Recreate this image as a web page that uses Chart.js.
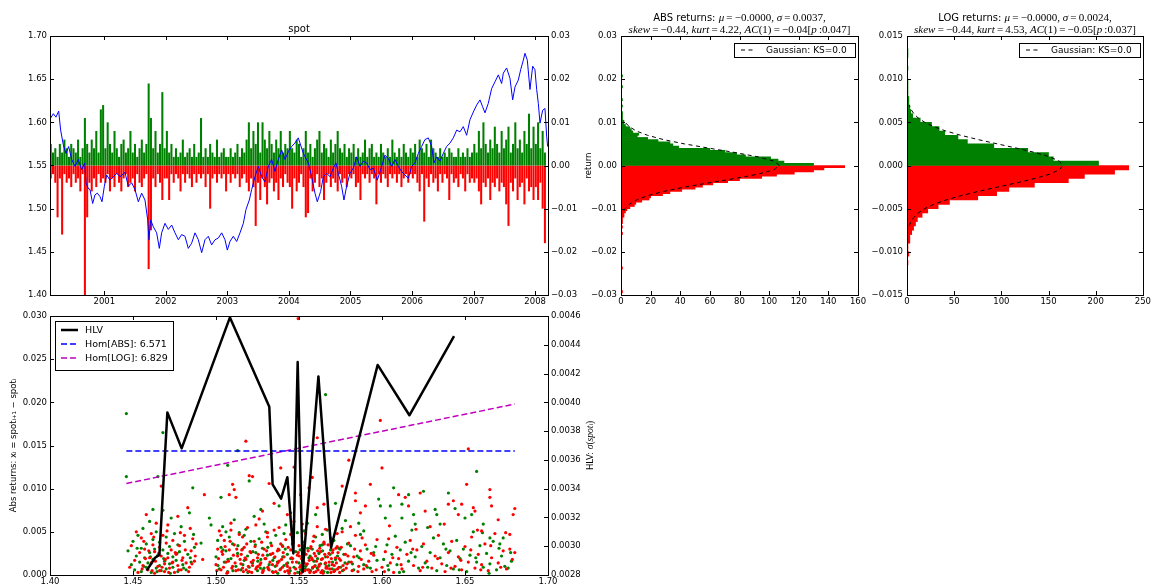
<!DOCTYPE html>
<html>
<head>
<meta charset="utf-8">
<script src="https://cdn.jsdelivr.net/npm/chart.js@4.4.0/dist/chart.umd.min.js"></script>
<style>
  html, body { margin: 0; padding: 0; background: #fff; }
  #wrap { position: relative; width: 1153px; height: 588px; overflow: hidden; }
  canvas { position: absolute; }
</style>
</head>
<body>
<div id="wrap">
  <canvas id="spotChart" width="600" height="310" style="left:0px;top:0px"></canvas>
  <canvas id="absHist" width="310" height="310" style="left:560px;top:0px"></canvas>
  <canvas id="logHist" width="293" height="310" style="left:860px;top:0px"></canvas>
  <canvas id="hlvChart" width="600" height="283" style="left:0px;top:305px"></canvas>
</div>
<script>
// ---------- data ----------

// spot level over time (decimal year)
const spotYears = [
  2000.129, 2000.172, 2000.215, 2000.259, 2000.291, 2000.334, 2000.378, 2000.421, 2000.470, 2000.524,
  2000.578, 2000.632, 2000.681, 2000.703, 2000.735, 2000.768, 2000.811, 2000.849, 2000.887, 2000.930,
  2000.963, 2001.001, 2001.038, 2001.093, 2001.147, 2001.201, 2001.255, 2001.336, 2001.390, 2001.445,
  2001.499, 2001.553, 2001.607, 2001.661, 2001.705, 2001.726, 2001.753, 2001.797, 2001.851, 2001.894,
  2001.932, 2001.986, 2002.040, 2002.095, 2002.149, 2002.203, 2002.257, 2002.311, 2002.365, 2002.419,
  2002.474, 2002.528, 2002.582, 2002.636, 2002.690, 2002.744, 2002.799, 2002.853, 2002.907, 2002.961,
  2002.999, 2003.042, 2003.096, 2003.151, 2003.205, 2003.259, 2003.302, 2003.356, 2003.394, 2003.448,
  2003.503, 2003.557, 2003.611, 2003.665, 2003.719, 2003.773, 2003.827, 2003.882, 2003.936, 2003.990,
  2004.044, 2004.098, 2004.152, 2004.234, 2004.315, 2004.369, 2004.423, 2004.461, 2004.515, 2004.559,
  2004.613, 2004.667, 2004.721, 2004.764, 2004.802, 2004.856, 2004.894, 2004.938, 2004.992, 2005.046,
  2005.100, 2005.154, 2005.208, 2005.263, 2005.317, 2005.371, 2005.436, 2005.490, 2005.560, 2005.615,
  2005.669, 2005.723, 2005.777, 2005.831, 2005.885, 2005.940, 2005.994, 2006.048, 2006.102, 2006.156,
  2006.210, 2006.265, 2006.319, 2006.356, 2006.400, 2006.454, 2006.508, 2006.562, 2006.617, 2006.671,
  2006.725, 2006.779, 2006.833, 2006.887, 2006.941, 2006.996, 2007.050, 2007.104, 2007.147, 2007.185,
  2007.239, 2007.293, 2007.348, 2007.402, 2007.456, 2007.483, 2007.537, 2007.591, 2007.635, 2007.673,
  2007.727, 2007.765, 2007.808, 2007.835, 2007.873, 2007.916, 2007.960, 2007.997, 2008.025, 2008.052,
  2008.079, 2008.122, 2008.160, 2008.187, 2008.203
];
const spotVals = [
  1.605, 1.610, 1.606, 1.613, 1.591, 1.574, 1.564, 1.572, 1.557, 1.549,
  1.557, 1.545, 1.553, 1.530, 1.524, 1.522, 1.506, 1.516, 1.518, 1.514,
  1.508, 1.526, 1.539, 1.533, 1.537, 1.541, 1.537, 1.542, 1.526, 1.530,
  1.522, 1.508, 1.518, 1.510, 1.487, 1.464, 1.487, 1.479, 1.472, 1.454,
  1.472, 1.483, 1.476, 1.481, 1.472, 1.464, 1.470, 1.468, 1.454, 1.460,
  1.472, 1.464, 1.449, 1.464, 1.468, 1.458, 1.464, 1.466, 1.472, 1.464,
  1.452, 1.462, 1.468, 1.462, 1.472, 1.483, 1.499, 1.510, 1.522, 1.537,
  1.549, 1.537, 1.531, 1.549, 1.557, 1.543, 1.557, 1.568, 1.557, 1.566,
  1.572, 1.576, 1.582, 1.564, 1.553, 1.537, 1.518, 1.508, 1.520, 1.537,
  1.541, 1.537, 1.547, 1.553, 1.541, 1.526, 1.510, 1.526, 1.541, 1.547,
  1.560, 1.549, 1.555, 1.553, 1.545, 1.547, 1.533, 1.545, 1.562, 1.558,
  1.549, 1.557, 1.549, 1.543, 1.539, 1.535, 1.549, 1.553, 1.564, 1.572,
  1.580, 1.582, 1.572, 1.553, 1.560, 1.555, 1.564, 1.572, 1.576, 1.582,
  1.591, 1.589, 1.595, 1.585, 1.603, 1.612, 1.620, 1.626, 1.618, 1.611,
  1.622, 1.639, 1.647, 1.655, 1.645, 1.657, 1.663, 1.651, 1.626, 1.641,
  1.649, 1.661, 1.672, 1.680, 1.672, 1.638, 1.665, 1.661, 1.638, 1.622,
  1.599, 1.614, 1.616, 1.584, 1.572
];

// largest up / down move in each ~2 week slot, in units of 0.001
const retYear0 = 2000.13;
const retStep = 0.037;
const retUp = [
  5, 3, 4, 2, 5, 3, 6, 4, 2, 5, 4, 3, 6, 2, 4, 11, 5, 3, 6, 4, 8, 3, 13, 14,
  4, 10, 5, 3, 8, 4, 2, 5, 6, 3, 4, 8, 3, 5, 2, 4, 6, 3, 5, 19, 11, 4, 8, 3, 5, 17, 4,
  8, 3, 5, 2, 4, 2, 3, 6, 2, 3, 4, 2, 5, 2, 3, 11, 2, 4, 2, 5, 3, 2, 6, 2, 3, 4, 2,
  2, 4, 2, 3, 5, 2, 4, 3, 6, 10, 4, 8, 5, 10, 3, 10, 6, 4, 8, 5, 3, 6, 4, 8, 3, 5, 4,
  8, 4, 3, 6, 5, 2, 4, 8, 3, 5, 2, 4, 6, 8, 3, 5, 4, 2, 6, 3, 5, 8, 4, 3, 5, 2, 4,
  3, 5, 2, 4, 2, 3, 6, 2, 4, 5, 2, 3, 2, 5, 3, 2, 4, 2, 6, 3, 2, 4, 2, 5, 3, 2, 4,
  3, 5, 2, 6, 4, 3, 5, 2, 6, 4, 3, 2, 4, 2, 3, 2, 4, 3, 2, 2, 4, 2, 3, 2, 4, 2, 3,
  5, 3, 8, 4, 10, 5, 3, 6, 4, 9, 5, 3, 8, 4, 6, 9, 3, 5, 10, 4, 6, 3, 8, 5, 12, 4, 9,
  5, 10, 4, 8, 3
];
const retDown = [
  -3, -2, -4, -12, -3, -16, -2, -4, -3, -5, -2, -4, -3, -6, -2, -30, -12, -4, -6, -3, -5, -2, -4, -3,
  -4, -2, -6, -3, -5, -2, -4, -6, -3, -2, -5, -4, -3, -6, -2, -4, -5, -3, -2, -24, -15, -3, -5, -2, -4, -8, -3,
  -3, -8, -2, -4, -2, -3, -6, -2, -4, -2, -3, -5, -2, -4, -2, -3, -2, -5, -2, -10, -3, -2, -4, -2, -3, -2, -6,
  -2, -4, -2, -3, -2, -5, -3, -2, -4, -6, -3, -5, -14, -4, -8, -3, -5, -9, -4, -3, -6, -4, -8, -3, -5, -2, -4,
  -5, -10, -3, -6, -4, -2, -5, -12, -11, -3, -6, -4, -2, -5, -3, -8, -4, -2, -5, -3, -4, -6, -2, -4, -3, -5, -2,
  -3, -2, -5, -4, -8, -2, -3, -2, -4, -2, -3, -9, -2, -4, -2, -3, -5, -2, -3, -2, -4, -2, -5, -3, -2, -4, -2,
  -3, -2, -4, -6, -2, -13, -3, -5, -2, -4, -3, -6, -2, -4, -2, -3, -8, -2, -4, -3, -5, -2, -3, -6, -2, -4, -3,
  -4, -3, -6, -9, -4, -5, -3, -8, -4, -5, -3, -6, -4, -5, -9, -14, -4, -6, -3, -8, -5, -4, -9, -3, -6, -5, -8,
  -5, -8, -4, -10, -18
];

// histogram counts, bins of 0.0005 going outward from zero
const histBin = 0.0005;
const absUpCounts = [130, 110, 106, 101, 84, 78, 70, 60, 39, 35, 33, 25, 18, 11, 12, 8, 7, 6, 3, 2, 2, 1, 1, 1, 1,
  0, 0, 1, 0, 0, 1, 0, 0, 0, 0, 0, 1, 0, 0, 0, 0, 1];
const absDownCounts = [151, 137, 130, 117, 105, 95, 80, 72, 62, 55, 50, 41, 33, 28, 20, 19, 14, 10, 9, 6, 4, 3, 2, 2, 1,
  1, 1, 0, 1, 0, 0, 1, 0, 0, 0, 0, 0, 0, 0, 0, 0, 0, 0, 0, 0, 0, 0, 1, 0, 0, 0, 0, 0, 0, 0, 0, 0, 0, 1];
const logUpCounts = [203, 155, 150, 128, 92, 64, 54, 40, 34, 26, 14, 6, 4, 3, 2, 2, 1, 1, 1, 1, 0, 0, 1, 0, 0, 1, 1];
const logDownCounts = [235, 220, 188, 171, 135, 108, 95, 75, 45, 33, 22, 16, 11, 9, 7, 5, 3, 3, 1, 1, 2, 0, 1];

// dashed Gaussian reference curves (return, count)
const gaussAbsRet = [-0.0105, -0.010, -0.009, -0.008, -0.007, -0.006, -0.005, -0.004, -0.003, -0.002, -0.001, 0,
  0.001, 0.002, 0.003, 0.004, 0.005, 0.006, 0.007, 0.008, 0.009, 0.010, 0.0105];
const gaussAbsCount = [1.9, 2.8, 5.6, 10.3, 17.9, 28.7, 42.9, 59.7, 77.1, 92.5, 103.2, 107,
  103.2, 92.5, 77.1, 59.7, 42.9, 28.7, 17.9, 10.3, 5.6, 2.8, 1.9];
const gaussLogRet = [-0.007, -0.0065, -0.006, -0.0055, -0.005, -0.0045, -0.004, -0.0035, -0.003, -0.0025, -0.002,
  -0.0015, -0.001, -0.0005, 0, 0.0005, 0.001, 0.0015, 0.002, 0.0025, 0.003, 0.0035, 0.004, 0.0045, 0.005,
  0.0055, 0.006, 0.0065, 0.007];
const gaussLogCount = [2.3, 4.2, 7.3, 11.9, 18.8, 28.4, 41.1, 57, 75.5, 95.9, 116.6, 135.8, 151.3, 161.5, 165,
  161.5, 151.3, 135.8, 116.6, 95.9, 75.5, 57, 41.1, 28.4, 18.8, 11.9, 7.3, 4.2, 2.3];

// scatter: [spot, |return| in units of 0.001]
const scatterUp = [
  [1.447,2.8],[1.449,1.2],[1.450,3.9],[1.451,0.6],[1.452,2.2],[1.453,4.6],[1.454,1.5],[1.455,0.4],[1.455,3.1],[1.456,5.4],
  [1.457,2.0],[1.458,0.9],[1.458,3.6],[1.459,1.4],[1.460,6.2],[1.460,2.6],[1.461,0.3],[1.462,4.1],[1.462,1.8],[1.463,3.0],
  [1.464,0.8],[1.464,5.0],[1.465,2.3],[1.466,1.1],[1.466,3.8],[1.467,0.5],[1.468,2.9],[1.468,7.5],[1.469,1.6],[1.470,4.4],
  [1.470,0.7],[1.471,2.5],[1.472,1.3],[1.472,3.3],[1.473,6.6],[1.474,0.9],[1.474,2.1],[1.475,4.8],[1.476,1.7],[1.477,0.4],
  [1.477,3.5],[1.478,2.7],[1.479,5.6],[1.480,1.2],[1.481,3.9],[1.482,0.6],[1.483,2.4],[1.484,7.2],[1.485,1.5],[1.487,3.2],
  [1.4565,1.0],[1.4605,2.1],[1.4645,0.4],[1.4685,1.9],[1.4725,0.2],[1.4765,2.5],[1.4805,0.8],[1.4845,2.0],[1.4525,3.1],[1.4865,4.7],
  [1.446,18.7],[1.446,11.4],[1.468,16.5],[1.465,11.4],[1.462,7.6],[1.486,10.1],
  [1.491,3.7],[1.496,6.6],[1.497,5.8],
  [1.500,2.1],[1.501,4.0],[1.502,0.7],[1.503,3.2],[1.504,5.6],[1.505,1.5],[1.506,2.8],[1.507,0.4],[1.508,4.4],[1.509,1.9],
  [1.510,3.6],[1.511,6.4],[1.512,1.0],[1.513,2.5],[1.514,4.9],[1.515,0.6],[1.516,3.0],[1.517,1.7],[1.518,5.3],[1.519,2.2],
  [1.520,0.9],[1.521,3.9],[1.522,1.4],[1.523,6.8],[1.524,2.6],[1.525,0.5],[1.526,4.2],[1.527,1.8],[1.528,3.1],[1.529,0.8],
  [1.530,5.0],[1.531,2.3],[1.532,1.2],[1.533,3.7],[1.534,0.4],[1.535,2.0],[1.536,4.6],[1.537,1.5],[1.538,2.9],[1.539,0.7],
  [1.540,3.4],[1.541,1.1],[1.542,5.8],[1.543,2.4],[1.544,0.3],[1.545,1.9],[1.546,3.6],[1.547,0.9],[1.548,2.7],[1.549,4.9],
  [1.550,1.4],[1.551,0.6],[1.552,2.3],[1.553,3.8],[1.554,1.0],[1.555,6.0],[1.556,2.0],[1.557,0.5],[1.558,3.0],[1.559,1.6],
  [1.560,4.4],[1.561,0.8],[1.562,2.5],[1.563,1.3],[1.564,3.5],[1.565,0.4],[1.566,2.1],[1.567,5.2],[1.568,1.1],[1.569,2.9],
  [1.570,0.7],[1.571,4.0],[1.572,1.8],[1.574,3.1],[1.575,0.9],[1.577,2.4],[1.578,6.3],[1.580,1.5],[1.581,3.4],[1.583,0.6],
  [1.585,2.2],[1.587,4.7],[1.589,1.2],[1.591,3.0],[1.593,0.8],[1.595,2.6],[1.597,1.7],
  [1.5012,1.1],[1.5042,2.9],[1.5072,1.8],[1.5102,0.5],[1.5132,3.4],[1.5162,1.2],[1.5192,0.3],[1.5222,2.7],[1.5252,1.6],[1.5282,0.6],
  [1.5312,3.2],[1.5342,1.7],[1.5372,0.2],[1.5402,2.1],[1.5432,1.4],[1.5462,2.9],[1.5492,0.3],[1.5522,1.7],[1.5552,3.1],[1.5582,0.8],
  [1.5612,1.9],[1.5642,2.8],[1.5672,0.3],[1.5702,1.5],[1.5732,2.2],[1.5762,0.5],[1.5792,3.6],[1.5822,1.3],[1.5862,2.0],[1.5912,0.9],
  [1.5962,3.3],[1.506,5.0],[1.517,4.6],[1.529,5.9],[1.541,4.8],[1.553,5.1],[1.564,4.7],[1.576,5.4],[1.586,6.0],
  [1.5507,2.9],[1.5537,0.7],[1.5567,2.2],[1.5597,1.1],[1.5627,3.4],[1.5657,1.3],[1.5687,2.4],[1.5717,0.6],[1.5747,3.0],[1.5777,1.4],
  [1.5237,3.5],[1.5267,0.8],[1.5327,2.4],[1.5357,1.0],[1.5417,3.0],[1.5447,0.5],
  [1.503,9.0],[1.507,12.7],[1.513,14.4],[1.520,10.9],[1.538,8.0],[1.566,20.9],[1.572,8.3],[1.589,5.1],[1.598,8.8],[1.599,8.0],
  [1.527,7.6],[1.545,7.2],[1.560,7.0],
  [1.601,1.8],[1.603,3.5],[1.604,0.6],[1.606,2.4],[1.608,4.5],[1.609,1.2],[1.611,2.9],[1.613,0.4],[1.614,3.8],[1.616,1.6],
  [1.618,5.2],[1.620,2.1],[1.622,0.8],[1.624,3.3],[1.626,1.4],[1.629,2.6],[1.631,4.3],[1.633,0.5],[1.635,2.0],[1.637,3.6],
  [1.639,1.1],[1.641,2.8],[1.643,0.7],[1.645,4.0],[1.647,1.9],[1.649,3.0],[1.651,0.4],[1.653,2.3],[1.655,5.0],[1.657,1.5],
  [1.659,3.4],[1.661,0.9],[1.663,2.5],[1.665,1.3],[1.667,3.9],[1.669,0.6],[1.672,2.2],[1.674,1.0],[1.676,0.8],[1.678,1.6],
  [1.6035,1.1],[1.6105,0.3],[1.6175,2.6],[1.6275,0.9],[1.6385,3.0],[1.6465,0.6],[1.6565,2.0],[1.6645,0.2],[1.6705,3.1],[1.6775,2.6],
  [1.6275,5.5],[1.6605,4.9],
  [1.602,6.6],[1.607,10.1],[1.605,8.0],[1.612,8.2],[1.616,9.3],[1.612,6.6],[1.619,7.0],[1.620,5.9],[1.625,9.7],[1.632,7.6],
  [1.633,7.0],[1.635,5.9],[1.640,9.5],[1.644,7.7],[1.650,6.6],[1.654,7.0],[1.657,12.0],[1.661,5.9],[1.665,4.3],[1.671,3.6],
  [1.673,4.3]
];
const scatterDown = [
  [1.448,0.9],[1.449,3.4],[1.451,1.7],[1.452,5.0],[1.453,0.3],[1.454,2.6],[1.455,4.3],[1.456,1.1],[1.457,3.0],[1.458,7.0],
  [1.459,0.6],[1.460,2.0],[1.461,4.8],[1.461,1.4],[1.462,3.5],[1.463,0.2],[1.463,2.7],[1.464,6.0],[1.465,1.0],[1.466,3.2],
  [1.466,0.5],[1.467,2.2],[1.468,4.6],[1.469,1.3],[1.469,0.4],[1.470,3.7],[1.471,2.0],[1.471,5.8],[1.472,0.8],[1.473,2.9],
  [1.474,1.5],[1.474,4.0],[1.475,0.3],[1.476,2.4],[1.477,6.8],[1.477,1.1],[1.478,3.4],[1.479,0.6],[1.480,2.0],[1.481,4.6],
  [1.482,1.4],[1.483,7.8],[1.484,0.9],[1.485,2.8],[1.486,4.2],[1.487,1.6],[1.488,3.6],
  [1.4555,0.7],[1.4575,1.9],[1.4595,2.8],[1.4615,0.5],[1.4635,1.6],[1.4655,2.5],[1.4675,0.9],[1.4695,1.8],[1.4715,0.3],[1.4735,1.4],
  [1.4755,2.6],[1.4775,0.6],[1.4795,1.7],[1.4815,2.9],[1.4835,0.4],[1.4855,1.3],[1.4875,2.2],[1.4565,3.9],[1.4625,4.4],[1.4705,5.1],
  [1.4785,4.9],[1.4845,5.4],
  [1.470,24.1],[1.467,10.3],[1.492,1.8],[1.493,9.3],
  [1.500,1.2],[1.501,3.0],[1.502,5.1],[1.503,0.6],[1.504,2.4],[1.505,4.0],[1.506,1.5],[1.507,0.3],[1.508,2.9],[1.509,6.0],
  [1.510,1.0],[1.511,3.5],[1.512,0.5],[1.513,2.2],[1.514,4.7],[1.515,1.3],[1.516,0.8],[1.517,3.2],[1.518,1.8],[1.519,5.5],
  [1.520,0.4],[1.521,2.6],[1.522,1.1],[1.523,3.9],[1.524,0.7],[1.525,2.0],[1.526,6.5],[1.527,1.4],[1.528,0.3],[1.529,3.0],
  [1.530,1.9],[1.531,4.4],[1.532,0.6],[1.533,2.4],[1.534,1.2],[1.535,5.2],[1.536,0.4],[1.537,2.8],[1.538,1.6],[1.539,3.6],
  [1.540,0.9],[1.541,2.1],[1.542,4.1],[1.543,1.0],[1.544,0.2],[1.545,2.9],[1.546,1.5],[1.547,6.2],[1.548,0.7],[1.549,2.3],
  [1.550,3.4],[1.551,1.1],[1.552,0.4],[1.553,2.6],[1.554,4.8],[1.555,1.3],[1.556,0.6],[1.557,3.1],[1.558,1.8],[1.559,0.3],
  [1.560,2.2],[1.561,5.6],[1.562,1.0],[1.563,2.7],[1.564,0.5],[1.565,3.8],[1.566,1.4],[1.567,0.8],[1.568,2.5],[1.569,4.3],
  [1.570,1.2],[1.571,0.4],[1.572,2.0],[1.573,3.3],[1.574,0.9],[1.575,1.7],[1.576,5.0],[1.577,0.6],[1.578,2.4],[1.579,1.3],
  [1.580,3.7],[1.582,0.5],[1.583,2.1],[1.584,4.6],[1.586,1.0],[1.587,2.8],[1.589,0.7],[1.590,3.5],[1.592,1.6],[1.594,0.4],
  [1.595,2.3],[1.597,4.1],
  [1.5005,0.5],[1.5015,1.9],[1.5035,2.7],[1.5045,0.9],[1.5055,3.3],[1.5065,0.2],[1.5075,1.6],[1.5085,3.9],[1.5095,0.8],[1.5105,2.3],
  [1.5115,1.4],[1.5125,3.0],[1.5135,0.6],[1.5145,1.8],[1.5155,2.9],[1.5165,0.4],[1.5175,2.0],[1.5185,3.6],[1.5195,1.0],[1.5205,2.7],
  [1.5215,0.3],[1.5225,1.7],[1.5235,3.3],[1.5245,0.9],[1.5255,2.4],[1.5265,1.2],[1.5275,3.8],[1.5285,0.5],[1.5295,1.9],[1.5305,2.8],
  [1.5315,0.7],[1.5325,1.5],[1.5335,3.4],[1.5345,0.3],[1.5355,2.1],[1.5365,1.1],[1.5375,3.0],[1.5385,0.6],[1.5395,1.8],[1.5405,2.6],
  [1.5415,0.4],[1.5425,1.3],[1.5435,3.2],[1.5445,0.8],[1.5455,2.0],[1.5465,3.7],[1.5475,0.2],[1.5485,1.5],[1.5495,2.6],[1.5505,0.9],
  [1.5515,1.9],[1.5525,3.4],[1.5535,0.5],[1.5545,1.2],[1.5555,2.8],[1.5565,0.3],[1.5575,2.0],[1.5585,3.9],[1.5595,1.0],[1.5605,1.6],
  [1.5615,0.6],[1.5625,3.1],[1.5635,1.8],[1.5645,0.2],[1.5655,2.4],[1.5665,1.0],[1.5675,3.5],[1.5685,0.7],[1.5695,1.9],[1.5705,2.9],
  [1.5715,0.5],[1.5725,1.4],[1.5735,2.6],[1.5745,0.3],[1.5755,3.2],[1.5765,1.1],[1.5785,0.8],[1.5795,2.2],[1.5815,1.5],[1.5835,3.0],
  [1.5855,0.4],[1.5875,1.8],[1.5905,1.1],[1.5935,2.5],[1.5965,0.6],
  [1.5502,2.2],[1.5512,0.2],[1.5522,3.0],[1.5532,1.4],[1.5542,2.4],[1.5552,0.6],[1.5562,1.7],[1.5572,3.3],[1.5582,0.9],[1.5592,2.5],
  [1.5602,0.4],[1.5612,2.8],[1.5622,1.2],[1.5632,0.3],[1.5642,1.9],[1.5652,3.6],[1.5662,0.8],[1.5672,2.1],[1.5682,1.5],[1.5692,0.3],
  [1.5702,2.6],[1.5712,1.1],[1.5722,3.1],[1.5732,0.7],[1.5742,1.9],[1.5252,1.0],[1.5282,2.3],[1.5312,0.9],[1.5342,2.5],[1.5372,1.4],
  [1.5402,3.3],[1.5432,0.5],[1.5462,1.9],[1.5152,2.4],[1.5182,0.6],[1.5212,1.5],
  [1.503,4.6],[1.509,5.2],[1.516,4.4],[1.524,5.8],[1.531,4.9],[1.538,5.5],[1.545,4.7],[1.552,5.9],[1.559,4.5],[1.566,5.3],
  [1.573,4.8],[1.581,5.6],[1.588,4.3],
  [1.518,15.5],[1.520,11.5],[1.522,11.4],[1.510,10.5],[1.511,9.9],[1.508,9.3],[1.512,9.0],[1.532,10.6],[1.539,12.4],[1.547,12.5],
  [1.5495,29.7],[1.561,15.9],[1.558,11.3],[1.556,10.1],[1.551,9.3],[1.561,7.8],[1.565,8.2],[1.576,10.3],[1.580,13.3],[1.584,9.5],
  [1.584,8.6],[1.593,10.5],[1.590,8.0],[1.587,7.2],[1.600,12.4],[1.599,17.9],[1.528,7.4],[1.543,7.0],[1.535,8.3],
  [1.600,0.9],[1.602,2.7],[1.604,4.2],[1.605,1.4],[1.607,0.3],[1.609,3.2],[1.610,1.9],[1.612,0.7],[1.615,2.4],[1.617,4.0],
  [1.619,1.1],[1.621,2.9],[1.623,0.5],[1.625,3.6],[1.627,1.6],[1.630,0.8],[1.632,2.2],[1.634,4.6],[1.636,1.3],[1.638,0.4],
  [1.640,2.6],[1.642,3.9],[1.644,1.0],[1.646,2.1],[1.648,0.6],[1.650,3.3],[1.652,1.5],[1.654,4.4],[1.656,0.8],[1.658,2.4],
  [1.660,1.2],[1.662,3.6],[1.664,0.5],[1.666,2.0],[1.668,4.8],[1.670,1.4],[1.673,2.8],[1.675,0.7],[1.677,3.0],[1.680,2.6],
  [1.6015,0.4],[1.6065,2.0],[1.6115,1.2],[1.6185,3.0],[1.6245,0.9],[1.6335,1.9],[1.6415,0.8],[1.6475,1.7],[1.6535,2.9],[1.6595,0.6],
  [1.6655,3.4],[1.6715,0.9],[1.6785,1.8],[1.6045,5.7],[1.6205,5.3],[1.6375,5.9],[1.6575,5.2],[1.6745,4.9],
  [1.610,9.3],[1.614,9.0],[1.616,8.0],[1.623,9.5],[1.626,7.4],[1.629,5.6],[1.640,8.2],[1.643,8.6],[1.646,7.0],[1.648,8.2],
  [1.651,10.5],[1.652,14.6],[1.655,7.8],[1.656,7.4],[1.660,5.1],[1.665,9.9],[1.665,9.0],[1.666,8.0],[1.670,6.4],[1.677,4.7],
  [1.679,7.0],[1.680,7.7]
];

// HLV curve (spot, sigma) and the two homoscedasticity lines
const hlvSpot = [1.4582, 1.4633, 1.4659, 1.4707, 1.4793, 1.5084, 1.5321, 1.5341, 1.5392, 1.5430,
  1.5466, 1.5492, 1.5522, 1.5617, 1.5693, 1.5974, 1.6165, 1.6434];
const hlvVal = [0.00283, 0.00292, 0.00294, 0.00393, 0.00368, 0.00459, 0.00397, 0.00343, 0.00333, 0.00348,
  0.00295, 0.00428, 0.00282, 0.00418, 0.00299, 0.00426, 0.00391, 0.00446];
const homSpot = [1.446, 1.680];
const homAbs = [14.36, 14.36];
const homLog = [10.6, 19.8];

// tick positions
const yearTicks = [2001, 2002, 2003, 2004, 2005, 2006, 2007, 2008];
const spotTicks = [1.40, 1.45, 1.50, 1.55, 1.60, 1.65, 1.70];
const retTicks = [-0.03, -0.02, -0.01, 0, 0.01, 0.02, 0.03];
const logRetTicks = [-0.015, -0.01, -0.005, 0, 0.005, 0.01, 0.015];
const absCountTicks = [0, 20, 40, 60, 80, 100, 120, 140, 160];
const logCountTicks = [0, 50, 100, 150, 200, 250];
const absRetTicks = [0, 0.005, 0.01, 0.015, 0.02, 0.025, 0.03];
const hlvTicks = [0.0028, 0.0030, 0.0032, 0.0034, 0.0036, 0.0038, 0.0040, 0.0042, 0.0044, 0.0046];

// ---------- styling helpers ----------
const SANS = "'DejaVu Sans', sans-serif";
const SERIF = "'Liberation Serif', 'DejaVu Serif', serif";
Chart.defaults.font.family = SANS;
Chart.defaults.font.size = 8.5;
Chart.defaults.color = '#000';

const GREEN = '#008000';
const RED = '#ff0000';

const fmt = d => v => (v < -1e-12 ? '\u2212' : '') + Math.abs(v).toFixed(d);

function makeAxis(o) {
  return {
    type: 'linear',
    position: o.position,
    min: o.min,
    max: o.max,
    offset: false,
    grid: { display: false, drawTicks: false },
    border: { display: false },
    afterBuildTicks: s => { s.ticks = o.ticks.map(v => ({ value: v })); },
    afterFit: s => {
      if (o.width != null) s.width = o.width;
      if (o.height != null) s.height = o.height;
    },
    ticks: {
      color: '#000', padding: o.pad != null ? o.pad : 3, autoSkip: false,
      maxRotation: 0, minRotation: 0, callback: v => o.fmt(v)
    },
    title: o.title
      ? { display: true, text: o.title, color: '#000', font: { size: 8.5 }, padding: { top: o.titlePad || 0, bottom: 0 } }
      : { display: false }
  };
}

// box around the plot + inward tick marks, like matplotlib
const framePlugin = {
  id: 'frame',
  afterDraw(chart, args, opts) {
    const { ctx, chartArea: a } = chart;
    const L = 4;
    ctx.save();
    ctx.strokeStyle = '#000';
    ctx.lineWidth = 1;
    ctx.beginPath();
    Object.values(chart.scales).forEach(s => {
      s.ticks.forEach(t => {
        const p = Math.round(s.getPixelForValue(t.value)) + 0.5;
        if (s.isHorizontal()) {
          ctx.moveTo(p, a.bottom); ctx.lineTo(p, a.bottom - L);
          ctx.moveTo(p, a.top); ctx.lineTo(p, a.top + L);
        } else {
          if (s.position === 'left' || opts.mirrorY) { ctx.moveTo(a.left, p); ctx.lineTo(a.left + L, p); }
          if (s.position === 'right' || opts.mirrorY) { ctx.moveTo(a.right, p); ctx.lineTo(a.right - L, p); }
        }
      });
    });
    ctx.stroke();
    ctx.strokeRect(Math.round(a.left) + 0.5, Math.round(a.top) + 0.5,
      Math.round(a.right - a.left), Math.round(a.bottom - a.top));
    ctx.restore();
  }
};

// titles mixing sans text with serif-italic math; optional rotation for side labels
function segFont(kind, size) {
  if (kind === 's') return size + 'px ' + SANS;
  if (kind === 'i') return 'italic ' + (size + 1) + 'px ' + SERIF;
  return (size + 1) + 'px ' + SERIF;
}
const richTitlePlugin = {
  id: 'richTitle',
  afterDraw(chart, args, opts) {
    if (!opts.lines) return;
    const { ctx, chartArea: a } = chart;
    ctx.save();
    ctx.fillStyle = '#000';
    ctx.textBaseline = 'alphabetic';
    ctx.textAlign = 'left';
    opts.lines.forEach(line => {
      const widths = line.segs.map(s => { ctx.font = segFont(s[1], line.size); return ctx.measureText(s[0]).width; });
      const total = widths.reduce((p, w) => p + w, 0);
      ctx.save();
      if (line.rot) {
        ctx.translate(line.x, (a.top + a.bottom) / 2);
        ctx.rotate(line.rot);
      } else {
        ctx.translate((a.left + a.right) / 2, line.y);
      }
      let x = -total / 2;
      line.segs.forEach((s, i) => {
        ctx.font = segFont(s[1], line.size);
        ctx.fillText(s[0], x, 0);
        x += widths[i];
      });
      ctx.restore();
    });
    ctx.restore();
  }
};

// framed legend inside the axes
const boxLegendPlugin = {
  id: 'boxLegend',
  afterDraw(chart, args, o) {
    if (!o.items) return;
    const { ctx, chartArea: a } = chart;
    const x0 = Math.round(o.side === 'right' ? a.right - o.inset - o.w : a.left + o.inset);
    const y0 = Math.round(a.top + o.top);
    ctx.save();
    ctx.fillStyle = '#fff';
    ctx.fillRect(x0, y0, o.w, o.h);
    ctx.strokeStyle = '#000';
    ctx.lineWidth = 1;
    ctx.strokeRect(x0 + 0.5, y0 + 0.5, o.w, o.h);
    o.items.forEach((di, i) => {
      const ds = chart.data.datasets[di];
      const y = y0 + o.rowTop + i * o.rowGap;
      ctx.beginPath();
      ctx.setLineDash(ds.borderDash || []);
      ctx.strokeStyle = ds.borderColor;
      ctx.lineWidth = ds.borderWidth;
      ctx.moveTo(x0 + o.lineX0, y);
      ctx.lineTo(x0 + o.lineX1, y);
      ctx.stroke();
      ctx.setLineDash([]);
      ctx.fillStyle = '#000';
      ctx.font = o.fontSize + 'px ' + SANS;
      ctx.textBaseline = 'middle';
      ctx.fillText(ds.label, x0 + o.textX, y + 0.5);
    });
    ctx.restore();
  }
};

const commonPlugins = { legend: { display: false }, tooltip: { enabled: false } };

// ---------- spot + returns over time ----------
const retX = retUp.map((v, i) => retYear0 + i * retStep);

new Chart(document.getElementById('spotChart'), {
  type: 'bar',
  data: {
    datasets: [
      {
        type: 'line', label: 'spot', yAxisID: 'y',
        data: spotYears.map((x, i) => ({ x, y: spotVals[i] })),
        borderColor: '#0000ff', borderWidth: 1, pointRadius: 0, order: 0
      },
      {
        label: 'up', yAxisID: 'y2',
        data: retX.map((x, i) => ({ x, y: retUp[i] / 1000 })),
        backgroundColor: GREEN, borderWidth: 0, grouped: false,
        barPercentage: 0.9, categoryPercentage: 1, order: 1
      },
      {
        label: 'down', yAxisID: 'y2',
        data: retX.map((x, i) => ({ x, y: retDown[i] / 1000 })),
        backgroundColor: RED, borderWidth: 0, grouped: false,
        barPercentage: 0.9, categoryPercentage: 1, order: 1
      }
    ]
  },
  options: {
    responsive: false,
    animation: false,
    layout: { padding: { top: 36, left: 0, right: 0, bottom: 0 } },
    plugins: {
      ...commonPlugins,
      frame: {},
      richTitle: { lines: [{ y: 32, size: 10, segs: [['spot', 's']] }] }
    },
    scales: {
      x: makeAxis({ position: 'bottom', min: 2000.118, max: 2008.209, ticks: yearTicks, fmt: v => String(v), height: 15, pad: 2 }),
      y: makeAxis({ position: 'left', min: 1.40, max: 1.70, ticks: spotTicks, fmt: fmt(2), width: 50 }),
      y2: makeAxis({ position: 'right', min: -0.03, max: 0.03, ticks: retTicks, fmt: fmt(2), width: 52 })
    }
  },
  plugins: [framePlugin, richTitlePlugin]
});

// ---------- return histograms ----------
function histChart(id, o) {
  return new Chart(document.getElementById(id), {
    type: 'bar',
    data: {
      datasets: [
        {
          label: 'up',
          data: o.up.map((c, k) => ({ x: c, y: (k + 0.5) * histBin })),
          backgroundColor: GREEN, borderWidth: 0, grouped: false,
          barPercentage: 1, categoryPercentage: 1, order: 1
        },
        {
          label: 'down',
          data: o.down.map((c, k) => ({ x: c, y: -(k + 0.5) * histBin })),
          backgroundColor: RED, borderWidth: 0, grouped: false,
          barPercentage: 1, categoryPercentage: 1, order: 1
        },
        {
          type: 'line', label: 'Gaussian: KS=0.0',
          data: o.gRet.map((y, i) => ({ x: o.gCount[i], y })),
          borderColor: '#000', borderWidth: 1, borderDash: [4, 3.5], pointRadius: 0, order: 0
        }
      ]
    },
    options: {
      indexAxis: 'y',
      responsive: false,
      animation: false,
      layout: { padding: { top: 36, left: o.padLeft, right: o.padRight, bottom: 0 } },
      plugins: {
        ...commonPlugins,
        frame: { mirrorY: true },
        richTitle: { lines: o.title },
        boxLegend: {
          items: [2], side: 'right', inset: 3, top: 6.5, w: 121, h: 14,
          rowTop: 7, rowGap: 0, lineX0: 7, lineX1: 20, textX: 32, fontSize: 9
        }
      },
      scales: {
        x: makeAxis({ position: 'bottom', min: 0, max: o.xMax, ticks: o.xTicks, fmt: v => String(v), height: 15, pad: 2 }),
        y: makeAxis({ position: 'left', min: o.yTicks[0], max: o.yTicks[o.yTicks.length - 1], ticks: o.yTicks,
          fmt: fmt(o.dec), width: o.axisWidth, pad: 4, title: o.yTitle, titlePad: 0 })
      }
    },
    plugins: [framePlugin, richTitlePlugin, boxLegendPlugin]
  });
}

const EQ = '\u2009=\u2009';
histChart('absHist', {
  up: absUpCounts, down: absDownCounts, gRet: gaussAbsRet, gCount: gaussAbsCount,
  xMax: 160, xTicks: absCountTicks, yTicks: retTicks, dec: 2,
  padLeft: 24, axisWidth: 37, padRight: 12, yTitle: 'return',
  title: [
    { y: 20.5, size: 10, segs: [['ABS returns: ', 's'], ['\u03bc', 'i'], [EQ + '\u22120.0000, ', 'r'], ['\u03c3', 'i'], [EQ + '0.0037,', 'r']] },
    { y: 32.5, size: 10, segs: [['skew', 'i'], [EQ + '\u22120.44, ', 'r'], ['kurt', 'i'], [EQ + '4.22, ', 'r'], ['AC', 'i'],
      ['(1)' + EQ + '\u22120.04[', 'r'], ['p', 'i'], ['\u2009:0.047]', 'r']] }
  ]
});
histChart('logHist', {
  up: logUpCounts, down: logDownCounts, gRet: gaussLogRet, gCount: gaussLogCount,
  xMax: 250, xTicks: logCountTicks, yTicks: logRetTicks, dec: 3,
  padLeft: 0, axisWidth: 47, padRight: 8, yTitle: null,
  title: [
    { y: 20.5, size: 10, segs: [['LOG returns: ', 's'], ['\u03bc', 'i'], [EQ + '\u22120.0000, ', 'r'], ['\u03c3', 'i'], [EQ + '0.0024,', 'r']] },
    { y: 32.5, size: 10, segs: [['skew', 'i'], [EQ + '\u22120.44, ', 'r'], ['kurt', 'i'], [EQ + '4.53, ', 'r'], ['AC', 'i'],
      ['(1)' + EQ + '\u22120.05[', 'r'], ['p', 'i'], ['\u2009:0.037]', 'r']] }
  ]
});

// ---------- abs returns vs spot, with HLV ----------
new Chart(document.getElementById('hlvChart'), {
  type: 'scatter',
  data: {
    datasets: [
      {
        type: 'line', label: 'HLV', yAxisID: 'y2',
        data: hlvSpot.map((x, i) => ({ x, y: hlvVal[i] })),
        borderColor: '#000', borderWidth: 2.5, borderJoinStyle: 'round', pointRadius: 0, order: 0
      },
      {
        type: 'line', label: 'Hom[ABS]: 6.571', yAxisID: 'y',
        data: homSpot.map((x, i) => ({ x, y: homAbs[i] / 1000 })),
        borderColor: '#0000ff', borderWidth: 1.5, borderDash: [6, 3], pointRadius: 0, order: 1
      },
      {
        type: 'line', label: 'Hom[LOG]: 6.829', yAxisID: 'y',
        data: homSpot.map((x, i) => ({ x, y: homLog[i] / 1000 })),
        borderColor: '#bf00bf', borderWidth: 1.5, borderDash: [6, 3], pointRadius: 0, order: 1
      },
      {
        label: 'down', yAxisID: 'y',
        data: scatterDown.map(p => ({ x: p[0], y: p[1] / 1000 })),
        backgroundColor: RED, borderWidth: 0, pointRadius: 1.6, order: 2
      },
      {
        label: 'up', yAxisID: 'y',
        data: scatterUp.map(p => ({ x: p[0], y: p[1] / 1000 })),
        backgroundColor: GREEN, borderWidth: 0, pointRadius: 1.6, order: 3
      }
    ]
  },
  options: {
    responsive: false,
    animation: false,
    layout: { padding: { top: 11, left: 0, right: 0, bottom: 0 } },
    plugins: {
      ...commonPlugins,
      frame: {},
      richTitle: { lines: [{ rot: -Math.PI / 2, x: 593, size: 8.5, segs: [['HLV: ', 's'], ['\u03c3', 'i'], ['(', 'r'], ['spot', 'i'], ['\u1d62', 's'], [')', 'r']] }] },
      boxLegend: {
        items: [0, 1, 2], side: 'left', inset: 5, top: 5, w: 118, h: 49,
        rowTop: 9, rowGap: 14, lineX0: 6, lineX1: 23, textX: 30, fontSize: 9.5
      }
    },
    scales: {
      x: makeAxis({ position: 'bottom', min: 1.40, max: 1.70, ticks: spotTicks, fmt: fmt(2), height: 13, pad: 2 }),
      y: makeAxis({ position: 'left', min: 0, max: 0.030, ticks: absRetTicks, fmt: fmt(3), width: 50,
        title: 'Abs returns: x\u1d62 = spot\u1d62\u208a\u2081 \u2212 spot\u1d62', titlePad: 9 }),
      y2: makeAxis({ position: 'right', min: 0.0028, max: 0.0046, ticks: hlvTicks, fmt: fmt(4), width: 52 })
    }
  },
  plugins: [framePlugin, richTitlePlugin, boxLegendPlugin]
});
</script>
</body>
</html>
